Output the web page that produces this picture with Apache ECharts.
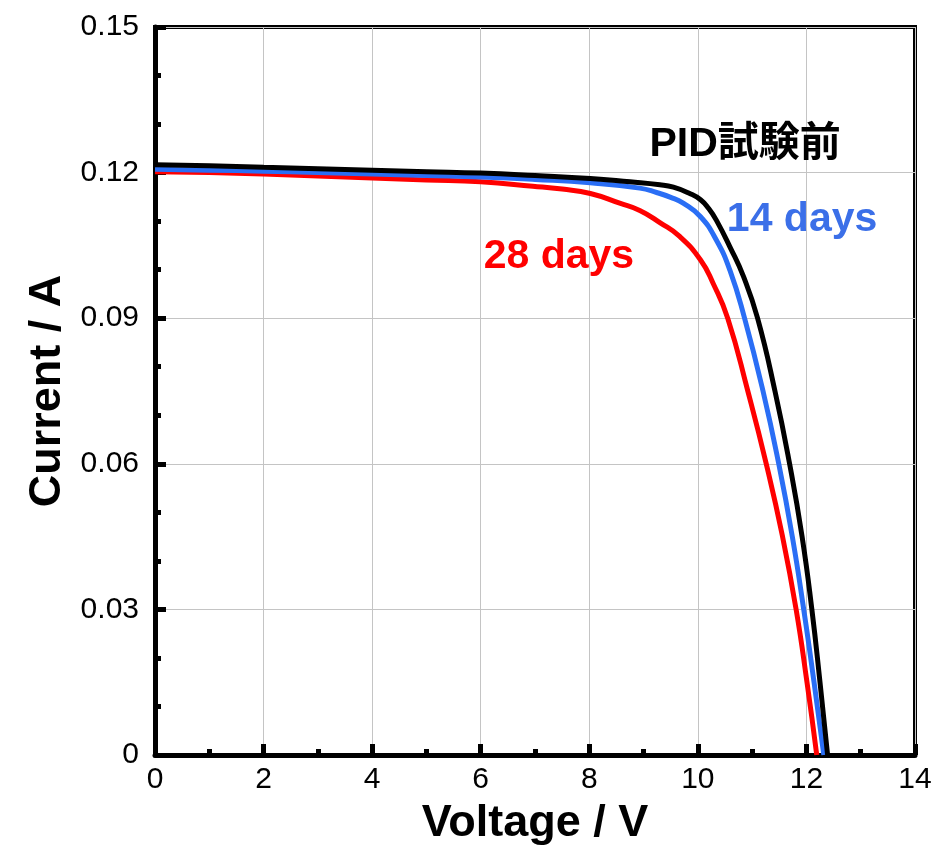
<!DOCTYPE html>
<html>
<head>
<meta charset="utf-8">
<script src="https://cdn.jsdelivr.net/npm/echarts@6/dist/echarts.min.js"></script>
<style>
html,body{margin:0;padding:0;background:#fff;}
#chart{width:936px;height:852px;}
</style>
</head>
<body>
<div id="chart"></div>
<script>
// Tick labels
var xTickLabels = ['0','2','4','6','8','10','12','14'];
var yTickLabels = ['0','0.03','0.06','0.09','0.12','0.15'];

// Series data [Voltage (V), Current (A)]
var before = [[0,0.1216],[1,0.1214],[2,0.1211],[3,0.1208],[4,0.1205],[5,0.1202],[6,0.1199],[7,0.1194],[8.02,0.1188],[8.75,0.1181],[9.3,0.1175],[9.55,0.1170],[9.85,0.1157],[10.05,0.1144],[10.2,0.1126],[10.34,0.1102],[10.59,0.1047],[10.84,0.0986],[11.1,0.0900],[11.42,0.0750],[11.69,0.0600],[11.92,0.0450],[12.1,0.0300],[12.25,0.0150],[12.39,0]];
var days14 = [[0,0.1207],[1,0.1205],[2,0.1203],[3,0.1200],[4,0.1197],[5,0.1194],[6,0.1191],[7,0.1186],[8.02,0.1179],[8.93,0.1168],[9.24,0.1159],[9.5,0.1149],[9.73,0.1137],[10.05,0.1109],[10.34,0.1061],[10.59,0.0999],[10.86,0.0900],[11.2,0.0750],[11.49,0.0600],[11.74,0.0450],[11.95,0.0300],[12.14,0.0150],[12.32,0]];
var days28 = [[0,0.1202],[1,0.1200],[2,0.1197],[3,0.1193],[4,0.1189],[5,0.1185],[6,0.1181],[6.96,0.1172],[7.5,0.1166],[8.02,0.1157],[8.56,0.1137],[8.93,0.1122],[9.3,0.1097],[9.67,0.1068],[10.05,0.1020],[10.28,0.0972],[10.55,0.0900],[10.92,0.0750],[11.26,0.0600],[11.56,0.0450],[11.81,0.0300],[12.01,0.0150],[12.19,0]];

// Annotation labels (data coordinates)
var labelTexts = ['PID試験前','14 days','28 days'];
var labelX = [10.87, 11.92, 7.44];
var labelY = [0.1257, 0.1102, 0.1026];

var cBlack = '#000000', cBlue = '#2a6ef5', cRed = '#ff0000';
var cBlueText = '#3b6fe8';

var chart = echarts.init(document.getElementById('chart'), null, {renderer:'canvas'});

function mkLabel(i, color){
  return {
    coord:[labelX[i], labelY[i]],
    symbol:'circle', symbolSize:1,
    itemStyle:{color:'rgba(0,0,0,0)'},
    label:{show:true, position:'inside', formatter:labelTexts[i], color:color,
      fontSize:41, fontWeight:'bold', fontFamily:'"Liberation Sans","Noto Sans CJK JP",sans-serif'}
  };
}

var fontTick = '"Liberation Sans", Arial, sans-serif';

var option = {
  backgroundColor:'#fff',
  animation:false,
  grid:{left:155, right:21, top:27, bottom:97, show:true, borderColor:'#000', borderWidth:4, backgroundColor:'transparent'},
  xAxis:{
    type:'value', min:0, max:14, interval:2,
    name:'Voltage / V', nameLocation:'middle', nameGap:46,
    nameTextStyle:{fontSize:45, fontWeight:'bold', color:'#000', fontFamily:fontTick},
    axisLine:{show:true, lineStyle:{color:'#000', width:5}},
    axisTick:{show:true, inside:true, length:11, lineStyle:{color:'#000', width:5}},
    minorTick:{show:true, splitNumber:2, length:6, lineStyle:{color:'#000', width:5}},
    axisLabel:{fontSize:30, color:'#000', margin:10, fontFamily:fontTick,
      formatter:function(v,i){ return xTickLabels[i]; }},
    splitLine:{show:true, lineStyle:{color:'#c4c4c4', width:1}}
  },
  yAxis:{
    type:'value', min:0, max:0.15, interval:0.03,
    name:'Current / A', nameLocation:'middle', nameGap:82, nameRotate:90,
    nameTextStyle:{fontSize:45, fontWeight:'bold', color:'#000', fontFamily:fontTick},
    axisLine:{show:true, lineStyle:{color:'#000', width:5}},
    axisTick:{show:true, inside:true, length:11, lineStyle:{color:'#000', width:5}},
    minorTick:{show:true, splitNumber:3, length:6, lineStyle:{color:'#000', width:5}},
    axisLabel:{fontSize:30, color:'#000', margin:16, fontFamily:fontTick,
      formatter:function(v,i){ return yTickLabels[i]; }},
    splitLine:{show:true, lineStyle:{color:'#c4c4c4', width:1}}
  },
  series:[
    {name:'28 days', type:'line', data:days28, showSymbol:false, smooth:0.5,
      lineStyle:{color:cRed, width:5}, itemStyle:{color:cRed},
      markPoint:{data:[mkLabel(2, cRed)]}},
    {name:'14 days', type:'line', data:days14, showSymbol:false, smooth:0.5,
      lineStyle:{color:cBlue, width:5}, itemStyle:{color:cBlue},
      markPoint:{data:[mkLabel(1, cBlueText)]}},
    {name:'PID試験前', type:'line', data:before, showSymbol:false, smooth:0.5,
      lineStyle:{color:cBlack, width:5}, itemStyle:{color:cBlack},
      markPoint:{data:[mkLabel(0, cBlack)]}}
  ]
};
chart.setOption(option);
</script>
</body>
</html>
